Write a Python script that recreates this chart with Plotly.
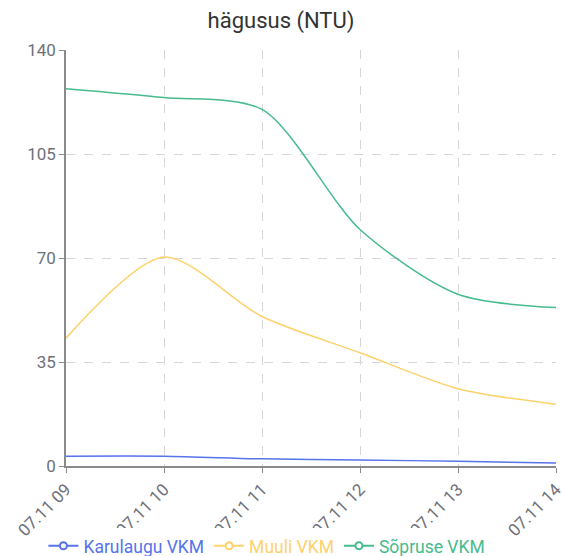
import plotly.graph_objects as go

categories = ["07.11 09", "07.11 10", "07.11 11", "07.11 12", "07.11 13", "07.11 14"]
karulaugu = [3.3, 3.3, 2.4, 2.0, 1.6, 1.0]
muuli = [43.0, 70.3, 50.3, 38.1, 26.0, 20.8]
sopruse = [127.0, 124.0, 120.0, 79.6, 57.8, 53.3]

series = [
    ("Karulaugu VKM", karulaugu, "#5673ea"),
    ("Muuli VKM", muuli, "#fdd26b"),
    ("Sõpruse VKM", sopruse, "#46bb8c"),
]

fig = go.Figure()
xs = list(range(len(categories)))
for name, vals, col in series:
    fig.add_trace(go.Scatter(
        x=xs, y=vals, mode="lines", showlegend=False, legendgroup=name,
        line=dict(color=col, width=1.5, shape="spline", smoothing=0.8),
    ))
    # legend entry (line + hollow circle icon)
    fig.add_trace(go.Scatter(
        x=[None], y=[None], mode="lines+markers", legendgroup=name,
        name=f"<span style='color:{col}'>{name}</span>",
        line=dict(color=col, width=2),
        marker=dict(size=7, color="white", line=dict(color=col, width=2)),
    ))

fig.update_layout(
    width=562, height=556,
    margin=dict(l=66, r=6, t=50, b=90, autoexpand=False),
    paper_bgcolor="white", plot_bgcolor="white",
    font=dict(family="Roboto", size=17, color="#6e7079"),
    title=dict(text="hägusus (NTU)", x=0.5, xanchor="center", y=0.963, yanchor="middle",
               font=dict(family="Roboto", size=22, color="#333333")),
    showlegend=True,
    legend=dict(orientation="h", x=0.41, xanchor="center", y=-0.192, yanchor="middle",
                font=dict(size=17.5), tracegroupgap=0, itemwidth=30),
    xaxis=dict(
        range=[0, 5], tickmode="array", tickvals=xs, ticktext=categories,
        tickangle=-45, showgrid=True, gridcolor="#d6d6d6", griddash="dash", gridwidth=1,
        showline=True, linecolor="#8a8a8a", linewidth=1.5, automargin=False,
        ticks="outside", ticklen=5, tickcolor="#8a8a8a", zeroline=False,
        ticklabeloverflow="allow",
        tickfont=dict(size=17, color="#6e7079"),
    ),
    yaxis=dict(
        range=[0, 140], tickmode="array", tickvals=[0, 35, 70, 105, 140],
        showgrid=True, gridcolor="#d6d6d6", griddash="dash", gridwidth=1,
        showline=True, linecolor="#8a8a8a", linewidth=1.5, automargin=False,
        ticks="outside", ticklen=5, tickcolor="#8a8a8a", zeroline=False,
        tickfont=dict(size=17, color="#6e7079"),
    ),
)

fig.write_html("out.html", config={"displayModeBar": False},
               post_script="document.body.style.margin='0';")
